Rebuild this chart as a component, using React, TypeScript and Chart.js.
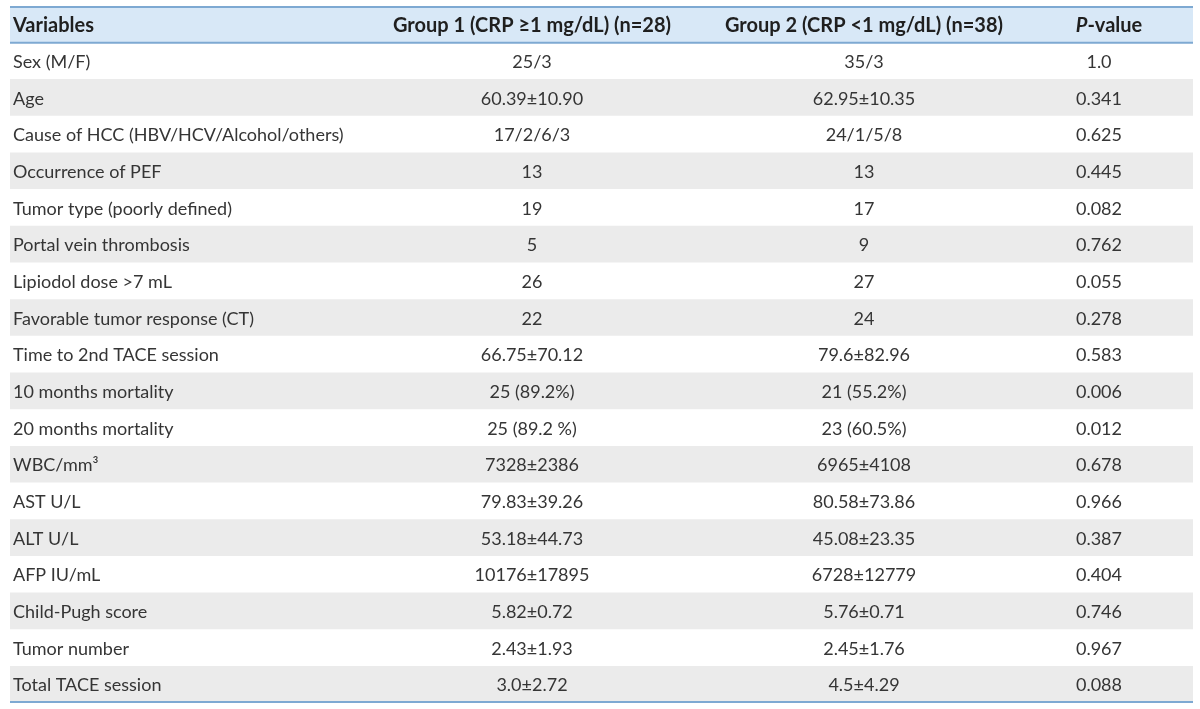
import React, { useEffect, useRef } from "react";
import { Chart, registerables } from "chart.js";

Chart.register(...registerables);

const headerLabels = ["Variables", "Group 1 (CRP \u22651 mg/dL) (n=28)", "Group 2 (CRP <1 mg/dL) (n=38)", "P-value"];

const variables = [
  "Sex (M/F)",
  "Age",
  "Cause of HCC (HBV/HCV/Alcohol/others)",
  "Occurrence of PEF",
  "Tumor type (poorly defined)",
  "Portal vein thrombosis",
  "Lipiodol dose >7 mL",
  "Favorable tumor response (CT)",
  "Time to 2nd TACE session",
  "10 months mortality",
  "20 months mortality",
  "WBC/mm\u00b3",
  "AST U/L",
  "ALT U/L",
  "AFP IU/mL",
  "Child-Pugh score",
  "Tumor number",
  "Total TACE session",
];

const group1 = [
  "25/3",
  "60.39\u00b110.90",
  "17/2/6/3",
  "13",
  "19",
  "5",
  "26",
  "22",
  "66.75\u00b170.12",
  "25 (89.2%)",
  "25 (89.2 %)",
  "7328\u00b12386",
  "79.83\u00b139.26",
  "53.18\u00b144.73",
  "10176\u00b117895",
  "5.82\u00b10.72",
  "2.43\u00b11.93",
  "3.0\u00b12.72",
];

const group2 = [
  "35/3",
  "62.95\u00b110.35",
  "24/1/5/8",
  "13",
  "17",
  "9",
  "27",
  "24",
  "79.6\u00b182.96",
  "21 (55.2%)",
  "23 (60.5%)",
  "6965\u00b14108",
  "80.58\u00b173.86",
  "45.08\u00b123.35",
  "6728\u00b112779",
  "5.76\u00b10.71",
  "2.45\u00b11.76",
  "4.5\u00b14.29",
];

const pValues = [
  "1.0", "0.341", "0.625", "0.445", "0.082", "0.762", "0.055", "0.278", "0.583",
  "0.006", "0.012", "0.678", "0.966", "0.387", "0.404", "0.746", "0.967", "0.088",
];

// layout (table units along x: 0..TABLE_W)
const TABLE_W = 1183;
const COL_TEXT_LEFT = 3;
const COL_G1 = 522;
const COL_G2 = 854;
const COL_P = 1089;
const COL_P_HEAD = 1099;

const FONT_FAMILY = "Lato, 'Open Sans', sans-serif";
const BODY_FONT = `18px ${FONT_FAMILY}`;
const HEAD_FONT = `bold 20px ${FONT_FAMILY}`;
const HEAD_ITALIC = `italic bold 20px ${FONT_FAMILY}`;
const TEXT_COLOR = "#353535";
const HEAD_COLOR = "#1f1f1f";
const HEAD_BG = "#d8e8f7";
const STRIPE = "#ebebeb";
const RULE = "#7ea9d2";

export default function App() {
  const ref = useRef<HTMLCanvasElement | null>(null);

  useEffect(() => {
    document.body.style.margin = "0";
    const canvas = ref.current;
    if (!canvas) return;
    const rowLabels = [headerLabels[0], ...variables];
    const colors = rowLabels.map((_, i) => (i === 0 ? HEAD_BG : i % 2 === 1 ? "#ffffff" : STRIPE));

    const tablePlugin = {
      id: "tableText",
      afterDatasetsDraw(chart: any) {
        const { ctx, chartArea, scales } = chart;
        const xs = scales.x;
        const ys = scales.y;
        ctx.save();
        // rules
        const headBottom = (ys.getPixelForValue(0) + ys.getPixelForValue(1)) / 2;
        ctx.strokeStyle = RULE;
        ctx.lineWidth = 2;
        [chartArea.top + 1, headBottom, chartArea.bottom - 1].forEach((y: number) => {
          ctx.beginPath();
          ctx.moveTo(chartArea.left, y);
          ctx.lineTo(chartArea.right, y);
          ctx.stroke();
        });

        ctx.textBaseline = "middle";
        // header
        const hy = ys.getPixelForValue(0) + 1;
        ctx.fillStyle = HEAD_COLOR;
        ctx.font = HEAD_FONT;
        ctx.textAlign = "left";
        ctx.fillText(headerLabels[0], xs.getPixelForValue(COL_TEXT_LEFT), hy);
        ctx.textAlign = "center";
        ctx.fillText(headerLabels[1], xs.getPixelForValue(COL_G1), hy);
        ctx.fillText(headerLabels[2], xs.getPixelForValue(COL_G2), hy);
        // P-value: italic P + bold "-value"
        ctx.font = HEAD_ITALIC;
        const wP = ctx.measureText("P").width;
        ctx.font = HEAD_FONT;
        const wRest = ctx.measureText("-value").width;
        const start = xs.getPixelForValue(COL_P_HEAD) - (wP + wRest) / 2;
        ctx.textAlign = "left";
        ctx.font = HEAD_ITALIC;
        ctx.fillText("P", start, hy);
        ctx.font = HEAD_FONT;
        ctx.fillText("-value", start + wP, hy);

        // body
        ctx.fillStyle = TEXT_COLOR;
        ctx.font = BODY_FONT;
        variables.forEach((v, i) => {
          const y = ys.getPixelForValue(i + 1) + 1;
          ctx.textAlign = "left";
          ctx.fillText(v, xs.getPixelForValue(COL_TEXT_LEFT), y);
          ctx.textAlign = "center";
          ctx.fillText(group1[i], xs.getPixelForValue(COL_G1), y);
          ctx.fillText(group2[i], xs.getPixelForValue(COL_G2), y);
          ctx.fillText(pValues[i], xs.getPixelForValue(COL_P), y);
        });
        ctx.restore();
      },
    };

    const chart = new Chart(canvas, {
      type: "bar",
      data: {
        labels: rowLabels,
        datasets: [
          {
            data: rowLabels.map(() => [0, TABLE_W] as any),
            backgroundColor: colors,
            borderWidth: 0,
            categoryPercentage: 1,
            barPercentage: 1,
          },
        ],
      },
      options: {
        indexAxis: "y",
        responsive: false,
        animation: false,
        devicePixelRatio: 1,
        layout: { padding: { left: 10, right: 7, top: 6, bottom: 6 } },
        plugins: { legend: { display: false }, tooltip: { enabled: false } },
        scales: {
          x: { type: "linear", min: 0, max: TABLE_W, display: false },
          y: { type: "category", display: false, offset: true, grid: { display: false } },
        },
      },
      plugins: [tablePlugin],
    });
    return () => chart.destroy();
  }, []);

  return (
    <div style={{ position: "absolute", left: 0, top: 0, width: 1200, height: 709, background: "#ffffff" }}>
      <canvas ref={ref} width={1200} height={709} />
    </div>
  );
}
